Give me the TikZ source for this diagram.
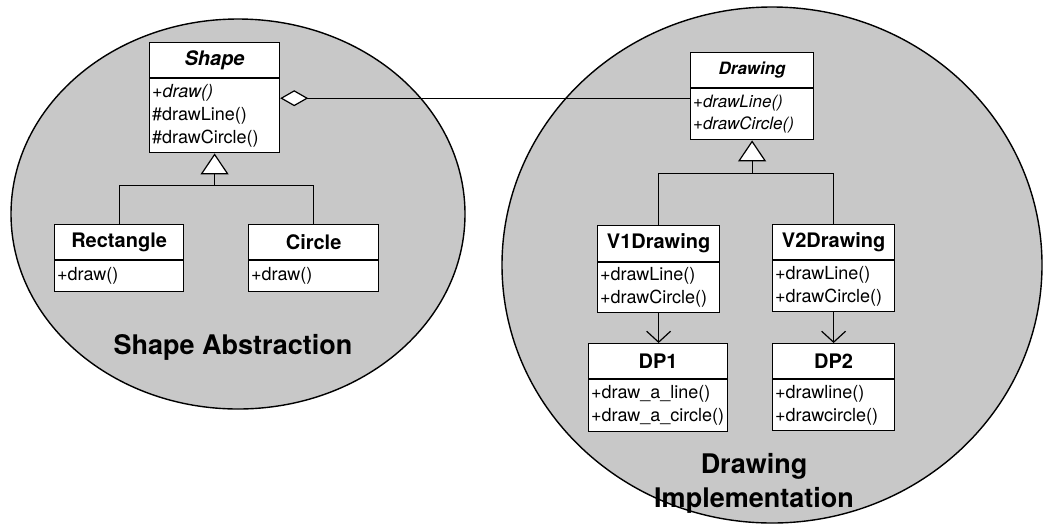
\documentclass[tikz,border=0pt]{standalone}
\usepackage{fontspec}
\setmainfont{TeX Gyre Heros}
\usetikzlibrary{arrows.meta, positioning}
\definecolor{packgray}{RGB}{200,200,200}
\newcommand{\headfont}{\fontsize{20}{24}\selectfont\bfseries}
\newcommand{\opsfont}{\fontsize{18}{23}\selectfont}
\newcommand{\absheadfont}{\fontsize{17}{22}\selectfont\bfseries\itshape}
\newcommand{\absopsfont}{\fontsize{17}{22}\selectfont\itshape}
\tikzset{package/.style={draw,line width=1.4pt,fill=packgray},
    classname/.style={draw,fill=white,line width=1.2pt,anchor=north west,
        inner sep=0pt,minimum height=35pt,font=\headfont},
    classops/.style={draw,fill=white,line width=1.2pt,anchor=north west,
        inner xsep=2.5pt,inner ysep=2pt,align=left,font=\opsfont},
    link/.style={draw,line width=1.2pt},
    inherit/.style={link,-{Triangle[open,fill=white,length=21pt,width=28pt]}},
    uses/.style={link,-{Straight Barb[length=11pt,width=24pt]}},
    aggregate/.style={link,{Diamond[open,fill=white,length=28pt,width=16pt]}-},
    pkglabel/.style={font=\fontsize{27}{34}\selectfont\bfseries,inner sep=0pt,align=center}}

\begin{document}
\begin{tikzpicture}[x=1pt,y=-1pt]
    \useasboundingbox (0,0) rectangle (1043,523);

    % Packages
    \path[package] (238,214) ellipse [x radius=227pt, y radius=195pt];
    \path[package] (772,265) ellipse [x radius=270pt, y radius=258pt];

    % Shape side
    \node[classname, minimum width=130pt, font=\headfont\itshape] (shapename) at (149,42) {Shape};
    \node[classops, text width=125pt, minimum height=74pt] (shapeops) at (shapename.south west)
        {\textit{+draw()}\\\#drawLine()\\\#drawCircle()};
    \node[classname, minimum width=129pt] (rectname) at (54,224) {Rectangle};
    \node[classops, text width=124pt, minimum height=31pt] (rectops) at (rectname.south west) {+draw()};
    \node[classname, minimum width=130pt] (circlename) at (248,224) {Circle};
    \node[classops, text width=125pt, minimum height=31pt] (circleops) at (circlename.south west) {+draw()};

    % Drawing side
    \node[classname, minimum width=123pt, font=\absheadfont] (drawingname) at (690,52) {Drawing};
    \node[classops, text width=118pt, minimum height=51pt, font=\absopsfont] (drawingops)
        at (drawingname.south west) {+drawLine()\\+drawCircle()};
    \node[classname, minimum width=122pt, minimum height=36pt] (v1name) at (597,225) {V1Drawing};
    \node[classops, text width=117pt, minimum height=50pt] (v1ops) at (v1name.south west)
        {+drawLine()\\+drawCircle()};
    \node[classname, minimum width=122pt] (v2name) at (772,224) {V2Drawing};
    \node[classops, text width=117pt, minimum height=51pt] (v2ops) at (v2name.south west)
        {+drawLine()\\+drawCircle()};
    \node[classname, minimum width=139pt] (dp1name) at (588,343) {DP1};
    \node[classops, text width=134pt, minimum height=52pt] (dp1ops) at (dp1name.south west)
        {+draw\_a\_line()\\+draw\_a\_circle()};
    \node[classname, minimum width=122pt] (dp2name) at (772,343) {DP2};
    \node[classops, text width=117pt, minimum height=51pt] (dp2ops) at (dp2name.south west)
        {+drawline()\\+drawcircle()};

    % Bridge (aggregation)
    \coordinate (aggstart) at ([yshift=-20pt]shapeops.north east);
    \draw[aggregate] (aggstart) -- (aggstart -| drawingops.west);

    % Generalisations
    \coordinate (shapefork) at ([yshift=-32pt]shapeops.south);
    \draw[link] (rectname.north) |- (shapefork) -| (circlename.north);
    \draw[inherit] (shapefork) -- (shapeops.south);
    \coordinate (drawingfork) at ([yshift=-33pt]drawingops.south);
    \draw[link] (v1name.north) |- (drawingfork) -| (v2name.north);
    \draw[inherit] (drawingfork) -- (drawingops.south);

    % Uses
    \draw[uses] (v1ops.south) -- (v1ops.south |- dp1name.north);
    \draw[uses] (v2ops.south) -- (v2ops.south |- dp2name.north);

    % Package labels
    \node[pkglabel, anchor=base] (shapepkg) at (233,354) {Shape Abstraction};
    \node[pkglabel] (drawingpkg) at (754,483) {Drawing\\Implementation};
\end{tikzpicture}
\end{document}
